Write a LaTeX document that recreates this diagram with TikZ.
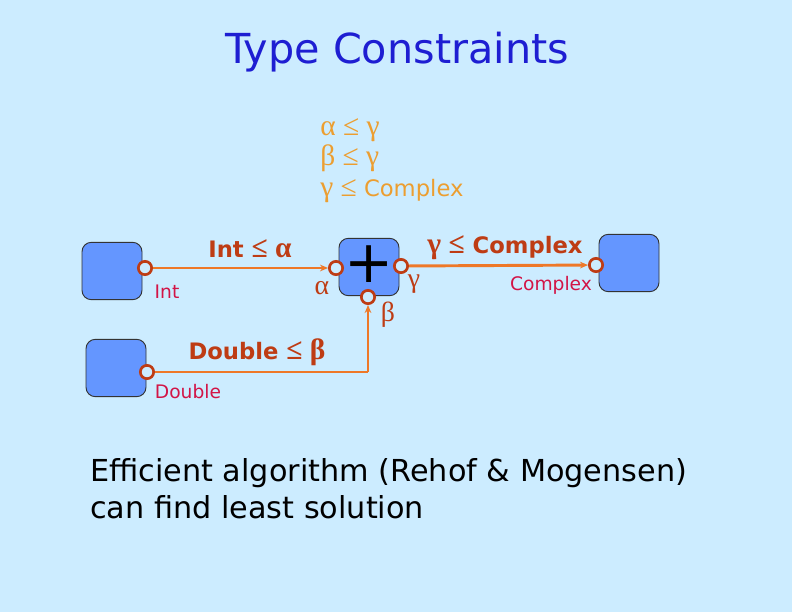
\documentclass[tikz,border=0pt]{standalone}
\usepackage{fontspec}
\setmainfont{DejaVu Sans}
\newfontfamily\symfont[Scale=1.3]{Liberation Serif}
\usepackage{xcolor}
\usetikzlibrary{arrows.meta,positioning}
\definecolor{slideBlue}{RGB}{204,236,255}
\definecolor{titleBlue}{RGB}{30,30,210}
\definecolor{boxBlue}{RGB}{100,150,255}
\definecolor{constrOrange}{RGB}{236,158,48}
\definecolor{edgeOrange}{RGB}{238,120,40}
\definecolor{labelBrown}{RGB}{190,60,20}
\definecolor{portRed}{RGB}{210,20,70}
\newcommand{\gr}[1]{{\symfont #1}}

\begin{document}
\begin{tikzpicture}[
  x=0.75pt,y=-0.75pt,
  every node/.style={inner sep=0pt},
  blockbox/.style={draw=black!80,fill=boxBlue,rounded corners=7pt,line width=0.7pt,minimum width=45pt,minimum height=43pt},
  port/.style={circle,draw=labelBrown,fill=slideBlue,line width=2pt,minimum size=10pt},
  wire/.style={draw=edgeOrange,line width=2.2pt},
  wirearrow/.style={wire,-{Stealth[length=6pt,width=5pt]}},
  edgelabel/.style={text=labelBrown,font=\fontsize{17}{20}\selectfont\bfseries},
  portlabel/.style={text=portRed,font=\fontsize{14}{17}\selectfont},
  greeklabel/.style={text=labelBrown,font=\fontsize{16}{20}\selectfont}
]
  \useasboundingbox[fill=slideBlue] (0,0) rectangle (792,612);

  % Title and constraint set.
  \node[text=titleBlue,font=\fontsize{31}{36}\selectfont] (title) at (397,52) {Type Constraints};
  \node[text=constrOrange,font=\fontsize{17}{23}\selectfont,align=left,anchor=north west] (constr) at (320,118)
    {\gr{α ≤ γ}\\ \gr{β ≤ γ}\\ \gr{γ ≤} Complex};

  % Blocks.
  \node[blockbox] (intbox) at (112,271) {};
  \node[blockbox] (dblbox) at (116,368) {};
  \node[blockbox] (plusbox) at (369,267) {};
  \node[font=\fontsize{44}{44}\selectfont] (plus) at (369,264) {+};
  \node[blockbox] (cpxbox) at (629,263) {};

  % Ports.
  \node[port] (intout) at (145,268) {};
  \node[port] (dblout) at (147,372) {};
  \node[port] (alpha) at (336,268) {};
  \node[port] (beta) at (368,297) {};
  \node[port] (gamma) at (401,266) {};
  \node[port] (cpxin) at (596,265) {};
  \coordinate (bend) at (beta |- dblout);

  % Wires.
  \draw[wirearrow] (intout) -- (alpha);
  \draw[wire] (dblout) -- (bend);
  \draw[wirearrow] (bend) -- (beta);
  \draw[wirearrow] (gamma) -- (cpxin);

  % Wire labels.
  \node[edgelabel] (intlab) at (250,249) {Int \gr{≤ α}};
  \node[edgelabel] (dbllab) at (257,352) {Double \gr{≤ β}};
  \node[edgelabel] (cpxlab) at (505,248) {\gr{γ ≤} Complex};

  % Port labels.
  \node[portlabel] (intname) at (167,292) {Int};
  \node[portlabel] (dblname) at (188,392) {Double};
  \node[portlabel] (cpxname) at (551,285) {Complex};
  \node[greeklabel] (alphaname) at (322,288) {\gr{α}};
  \node[greeklabel] (gammaname) at (414,284) {\gr{γ}};
  \node[greeklabel] (betaname) at (388,315) {\gr{β}};

  % Closing remark.
  \node[font=\fontsize{22.7}{28}\selectfont,align=left,anchor=north west] (remark) at (90,458)
    {Efficient algorithm (Rehof \& Mogensen)\\can find least solution};
\end{tikzpicture}
\end{document}
